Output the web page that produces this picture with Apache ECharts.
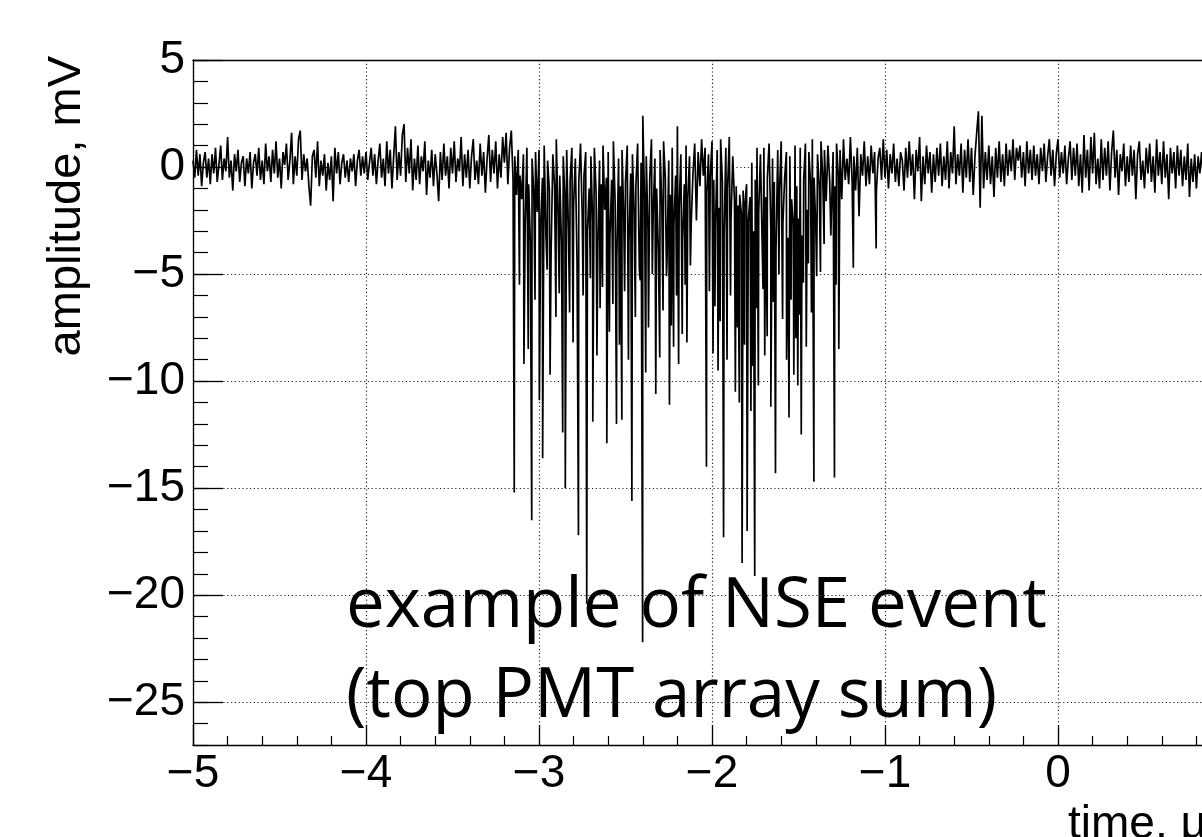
<!DOCTYPE html>
<html>
<head>
<meta charset="utf-8">
<script src="https://cdn.jsdelivr.net/npm/echarts@6/dist/echarts.min.js"></script>
<style>
html,body{margin:0;padding:0;background:#fff;}
#chart{width:1202px;height:837px;}
</style>
</head>
<body>
<div id="chart"></div>
<script>
// ---- data ----
const noiseStart = -5.0;   // µs, first baseline sample
const noiseStep = 0.01;    // µs between baseline samples
const noise = [
 0.3,-0.5,0.8,-0.4,0.6,-0.9,0.2,0.7,-0.5,0.4,
 -0.8,0.6,-0.3,0.9,-0.7,0.1,1.0,-0.6,0.4,-0.2,
 1.4,-0.5,0.3,-1.1,0.6,-0.2,0.8,-0.7,0.2,0.5,
 -0.9,0.4,-0.3,0.7,-1.0,0.2,0.6,-0.4,0.9,-0.6,
 0.3,-0.8,1.1,-0.2,0.5,-0.7,0.8,-0.3,1.2,-0.5,
 0.4,-1.0,0.7,0.1,1.1,-0.6,0.3,1.6,-0.8,0.5,
 -0.4,1.3,1.7,-0.6,0.6,-0.2,0.4,-0.9,-1.8,0.5,
 0.8,-0.5,1.2,-0.9,0.3,-0.4,0.6,-1.1,0.2,-0.6,
 0.5,-1.6,0.9,-0.3,0.7,-0.8,0.2,0.6,-0.5,0.3,
 -0.7,0.4,-0.2,0.6,-0.9,0.3,0.8,-0.4,0.5,-0.3,
 0.7,-0.6,0.2,0.9,-0.4,0.6,-0.8,0.3,1.1,-0.5,
 0.4,-0.9,1.2,-0.3,0.8,-1.0,0.5,1.9,-0.6,0.7,
 -0.4,1.5,2.0,-0.7,0.9,-0.3,1.3,-1.1,0.4,-0.6,
 1.0,-0.8,0.5,-0.2,1.2,-1.3,0.3,-0.5,0.8,-0.9,
 0.6,-0.3,-1.6,0.7,-0.6,1.1,-0.4,0.5,-1.0,0.9,
 -0.3,1.2,-0.7,0.4,-0.2,1.4,-0.9,0.6,-0.5,0.8,
 -1.0,0.5,1.3,-0.6,0.3,-0.8,1.1,-0.4,0.7,-1.2,
 0.4,1.5,-0.7,0.8,-0.3,1.2,-1.0,0.6,-0.5,1.4,
 0.2,1.6,-0.8,0.9,1.7,-0.6,0.5,-1.3,0.8,-0.4,
 -1.5,0.6,-2.8,0.9,-0.8,-3.5,0.4,-1.2,0.7,-2.1,
 0.8,-2.6,-0.5,1.0,-3.2,0.3,-1.1,-4.0,0.6,-0.9,
 1.3,-2.2,-0.4,-3.6,0.5,-1.4,0.8,-2.9,-0.6,0.9,
 -1.8,0.4,-4.5,-0.7,1.1,-2.3,-0.4,0.7,-3.0,-1.0,
 0.5,-2.5,0.9,-1.2,-3.8,0.3,-0.8,1.0,-2.0,-0.5,
 0.7,-3.3,-0.6,1.2,-1.6,-4.2,0.4,-0.9,0.8,-2.4,
 -0.7,1.0,-3.5,-0.3,0.6,-2.1,-0.9,1.1,-4.8,0.2,
 2.4,-1.5,0.5,-3.0,-0.6,1.3,-2.2,0.4,-1.0,-3.9,
 0.8,-1.8,1.2,-0.5,-4.4,0.3,-1.3,0.9,-2.7,-0.4,
 1.9,-2.0,0.6,-3.4,-0.8,1.0,-1.5,0.5,-2.6,-0.3,
 1.1,-2.5,0.7,-0.9,1.3,-0.4,0.9,-1.2,0.6,-0.5,
 1.2,-0.6,-2.8,0.8,-1.9,1.3,-0.7,-3.1,0.9,-1.0,
 1.4,-2.4,0.5,-1.6,-0.9,-1.8,-1.3,-2.2,-1.1,-1.7,
 -0.8,-2.5,-1.4,0.2,-3.0,-0.6,0.9,-2.1,0.6,-3.6,
 0.9,-1.4,-0.5,1.1,-2.9,0.4,-0.7,-3.8,0.8,-1.2,
 1.2,-2.6,-0.5,0.7,-3.3,0.5,-1.5,-2.7,1.0,-0.9,
 -2.4,0.9,-3.2,-0.6,1.1,-2.0,0.7,-0.8,1.3,-0.5,
 -2.8,0.6,-0.9,1.2,-0.4,0.8,-1.6,1.0,-0.6,-2.2,
 0.7,-0.9,1.1,-0.4,0.8,-1.5,1.3,-0.6,0.4,-0.8,
 1.4,-0.7,0.5,-1.1,0.9,-2.3,0.6,-0.4,1.2,-0.9,
 0.5,-0.8,1.0,-0.3,0.7,-1.2,0.4,0.9,-0.6,1.3,
 -0.5,0.8,-1.0,0.6,-0.3,1.1,-0.7,0.4,-0.9,0.7,
 0.3,-1.1,0.9,-0.5,1.2,-0.4,0.6,-1.5,0.8,-0.2,
 1.4,-1.6,0.5,-0.8,1.0,-0.3,0.7,-1.2,0.6,-0.7,
 0.9,-0.4,1.1,-0.9,0.5,-0.6,1.2,-1.0,0.7,-0.3,
 1.9,-0.8,0.6,-0.4,1.1,-1.2,0.8,-0.5,1.3,-0.7,
 0.9,-1.3,0.5,1.6,2.6,-1.9,2.4,-1.0,0.7,-0.6,
 1.0,-0.8,0.5,-1.4,0.9,-0.5,1.2,-0.7,0.6,-0.9,
 1.1,-0.4,0.8,-0.2,1.3,-0.6,0.9,0.3,1.0,-0.5,
 0.7,-0.9,1.2,-0.3,0.8,-0.6,1.0,-0.4,0.6,-0.8,
 0.9,-0.2,1.1,-0.7,0.5,1.3,-0.4,0.8,-0.9,0.6,
 1.3,-0.5,0.7,-0.3,1.0,-0.8,0.4,1.2,-0.6,0.9,
 -0.4,1.1,-0.9,0.6,-1.2,1.5,-0.5,0.8,-1.1,1.4,
 -0.3,1.6,-0.8,0.4,-1.0,1.3,-0.6,0.9,-0.4,1.2,
 -1.1,0.7,1.7,-0.5,0.8,-1.3,0.6,-0.2,1.1,-0.9,
 0.5,-0.7,1.0,-0.4,0.8,-1.5,0.6,1.2,-0.6,0.3,
 -1.0,0.9,-0.3,1.1,-0.7,0.5,-1.2,1.3,-0.4,0.7,
 -0.8,1.2,-0.5,0.6,-1.5,0.9,-0.3,0.7,-1.0,1.0,
 -0.4,0.8,-0.9,0.5,-0.6,1.1,-1.4,0.4,-0.7,0.6,
 -1.0,0.5,-0.3,0.7,-0.5
];
// single-photoelectron pulses (time µs, amplitude mV)
const pulseTimes = [
 -3.143,-3.113,-3.087,-3.062,-3.042,-3.023,-2.998,-2.979,-2.953,-2.936,
 -2.902,-2.883,-2.863,-2.848,-2.823,-2.803,-2.772,-2.745,-2.724,-2.703,
 -2.689,-2.665,-2.647,-2.633,-2.608,-2.593,-2.573,-2.552,-2.535,-2.521,
 -2.505,-2.483,-2.463,-2.443,-2.415,-2.401,-2.383,-2.367,-2.345,-2.325,
 -2.302,-2.283,-2.263,-2.246,-2.235,-2.222,-2.205,-2.193,-2.172,-2.155,
 -2.145,-2.125,-2.032,-2.015,-1.994,-1.983,-1.965,-1.953,-1.933,-1.913,
 -1.893,-1.865,-1.853,-1.842,-1.826,-1.812,-1.797,-1.775,-1.765,-1.753,
 -1.743,-1.732,-1.705,-1.695,-1.681,-1.66,-1.645,-1.633,-1.613,-1.592,
 -1.569,-1.555,-1.543,-1.527,-1.515,-1.504,-1.495,-1.484,-1.472,-1.455,
 -1.443,-1.425,-1.411,-1.395,-1.373,-1.352,-1.313,-1.292,-1.283,-1.267,
 -1.183,-1.051
];
const pulseAmps = [
 -15.2,-5.5,-9.2,-8.5,-16.5,-6.2,-10.9,-13.6,-4.8,-9.7,
 -7.0,-5.9,-12.4,-15.0,-6.8,-8.2,-17.2,-6.0,-20.4,-5.2,
 -11.9,-8.8,-6.6,-5.6,-12.9,-7.7,-6.4,-12.0,-8.3,-11.8,
 -5.8,-9.0,-15.6,-7.0,-5.3,-22.2,-9.6,-7.5,-5.0,-10.6,
 -8.9,-6.7,-5.1,-11.1,-7.4,-8.4,-6.0,-9.2,-7.8,-5.5,
 -8.2,-4.6,-14.0,-5.8,-8.7,-6.5,-9.5,-7.2,-17.3,-9.0,
 -6.0,-10.5,-7.5,-11.0,-18.5,-8.3,-17.0,-11.4,-9.3,-19.1,
 -6.6,-10.2,-5.7,-8.8,-7.9,-11.2,-6.3,-14.3,-5.0,-7.1,
 -9.0,-11.7,-6.2,-9.7,-8.0,-10.2,-6.9,-12.5,-5.4,-8.4,
 -4.5,-6.8,-14.7,-5.1,-4.9,-3.6,-3.2,-14.5,-5.5,-8.5,
 -4.7,-3.8
];
const xTickLabels = ['−5','−4','−3','−2','−1','0','1'];
const yTitle = 'amplitude, mV';
const xTitle = 'time, µs';
const noteLines = ['example of NSE event', '(top PMT array sum)'];

// ---- build trace ----
const trace = noise.map((v, i) => [Number((noiseStart + i * noiseStep).toFixed(4)), v]);
pulseTimes.forEach((t, i) => trace.push([t, pulseAmps[i]]));
trace.sort((a, b) => a[0] - b[0]);

const SANS = "'Liberation Sans', Arial, Helvetica, sans-serif";
const chart = echarts.init(document.getElementById('chart'), null, {renderer: 'canvas'});
const gridLine = {show: true, lineStyle: {color: '#222', width: 1.2, type: [1.2, 2.6]}};

chart.setOption({
  animation: false,
  backgroundColor: '#fff',
  grid: {left: 193, top: 60, width: 1038, height: 685, containLabel: false, outerBoundsMode: 'none'},
  xAxis: [{
    type: 'value', position: 'bottom', min: -5, max: 1, interval: 1,
    axisLine: {show: true, onZero: false, lineStyle: {color: '#000', width: 1.3}},
    axisTick: {show: true, inside: true, length: 20, lineStyle: {color: '#000', width: 1.3}},
    minorTick: {show: true, splitNumber: 5, length: 9, lineStyle: {color: '#000', width: 1.2}},
    axisLabel: {show: true, margin: 6, fontFamily: SANS, fontSize: 46, color: '#000',
      formatter: v => xTickLabels[Math.round(v + 5)]},
    splitLine: gridLine
  }, {
    type: 'value', position: 'top', min: -5, max: 1, interval: 1,
    axisLine: {show: true, onZero: false, lineStyle: {color: '#000', width: 1.3}},
    axisTick: {show: false}, axisLabel: {show: false}, splitLine: {show: false}
  }],
  yAxis: [{
    type: 'value', position: 'left', min: -27, max: 5, minInterval: 5, maxInterval: 5,
    axisLine: {show: true, onZero: false, lineStyle: {color: '#000', width: 1.3}},
    axisTick: {show: true, inside: true, length: 30, lineStyle: {color: '#000', width: 1.3}},
    axisLabel: {show: true, margin: 8, fontFamily: SANS, fontSize: 46, color: '#000',
      showMinLabel: false,
      formatter: v => (v < 0 ? '−' + Math.abs(v) : String(v))},
    splitLine: gridLine
  }, {
    type: 'value', position: 'left', min: -27, max: 5, interval: 1,
    axisLine: {show: false, onZero: false},
    axisTick: {show: true, inside: true, length: 15, lineStyle: {color: '#000', width: 1.2}},
    axisLabel: {show: false}, splitLine: {show: false}
  }],
  series: [{
    type: 'line', xAxisIndex: 0, yAxisIndex: 0,
    data: trace, showSymbol: false, symbol: 'none', sampling: null,
    lineStyle: {color: '#000', width: 1.7}, clip: true, silent: true
  }],
  graphic: [
    {type: 'text', x: 67, y: 56, rotation: Math.PI / 2, silent: true,
      style: {text: yTitle, font: "47px 'Liberation Sans', Arial, sans-serif", fill: '#000',
        align: 'right', verticalAlign: 'middle'}},
    {type: 'text', x: 1068, y: 825, silent: true,
      style: {text: xTitle, font: "46px 'Liberation Sans', Arial, sans-serif", fill: '#000',
        align: 'left', verticalAlign: 'middle'}},
    {type: 'text', x: 346, y: 607, silent: true,
      style: {text: noteLines[0], font: "69px 'Open Sans', 'Noto Sans', sans-serif", fill: '#000',
        align: 'left', verticalAlign: 'middle'}},
    {type: 'text', x: 346, y: 697, silent: true,
      style: {text: noteLines[1], font: "69px 'Open Sans', 'Noto Sans', sans-serif", fill: '#000',
        align: 'left', verticalAlign: 'middle'}}
  ]
});
</script>
</body>
</html>
